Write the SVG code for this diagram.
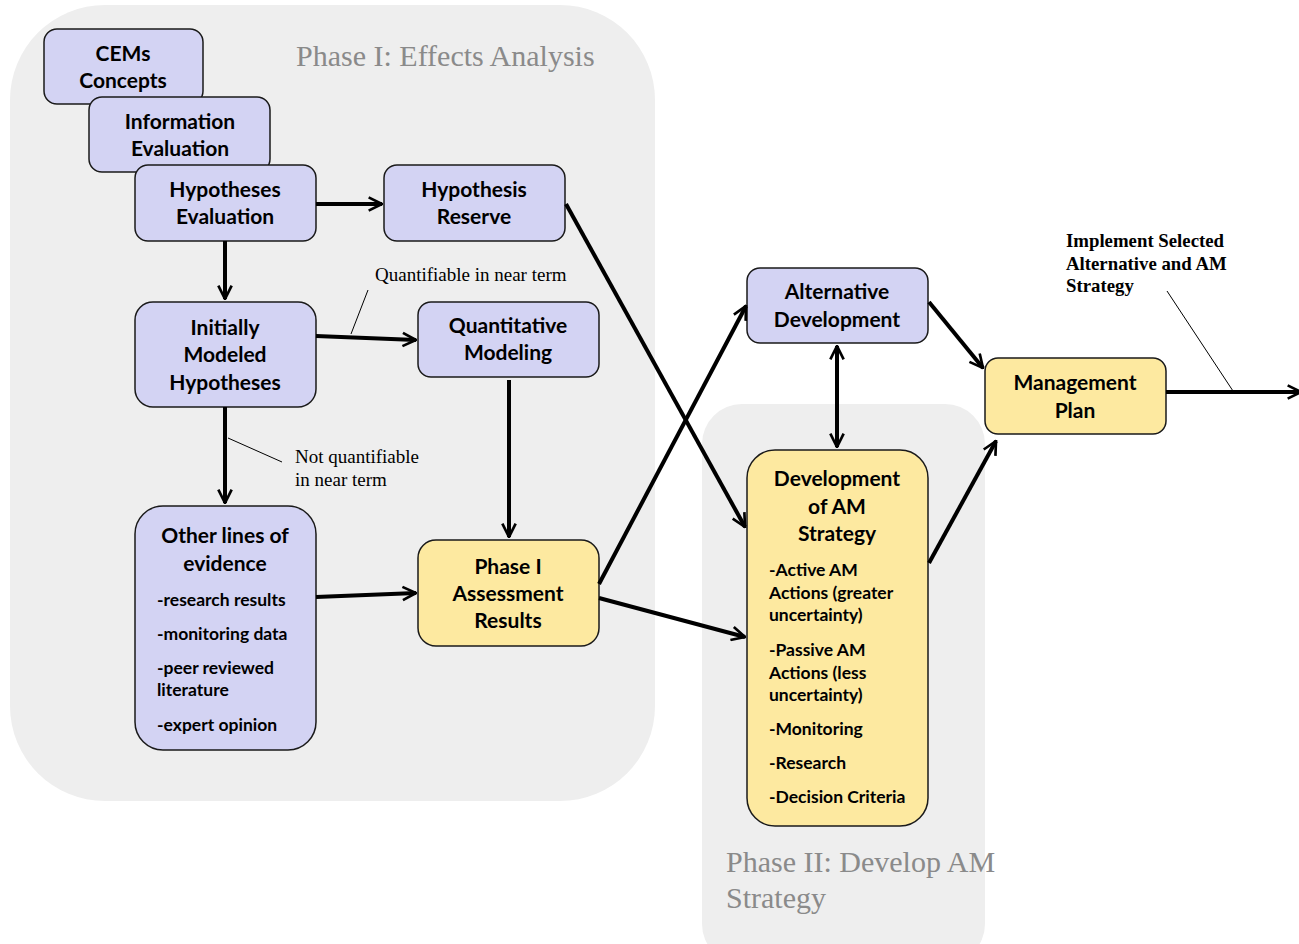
<svg xmlns="http://www.w3.org/2000/svg" width="1299" height="944" viewBox="0 0 1299 944">
<defs>
<marker id="ah" viewBox="0 0 12 12" refX="11" refY="6" markerWidth="16" markerHeight="16" markerUnits="userSpaceOnUse" orient="auto-start-reverse">
<path d="M1,1 L11,6 L1,11" fill="none" stroke="#000" stroke-width="2"/>
</marker>
<style>
.bg{fill:#eeeeee}
.ph{font-family:"Liberation Serif",serif;font-size:30px;fill:#8a8a8a}
.lav{fill:#d3d3f3;stroke:#1a1a1a;stroke-width:1.5}
.yel{fill:#fde9a0;stroke:#1a1a1a;stroke-width:1.5}
.t{font-family:Lato,"Open Sans",sans-serif;font-weight:bold;font-size:21px;fill:#000;text-anchor:middle}
.b{font-family:Lato,"Open Sans",sans-serif;font-weight:bold;font-size:17.5px;fill:#000}
.c{stroke:#000;stroke-width:4;fill:none;marker-end:url(#ah)}
.ln{stroke:#000;stroke-width:1;fill:none}
.lbl{font-family:"Liberation Serif",serif;font-size:19px;fill:#000}
.lblb{font-family:"Liberation Serif",serif;font-size:18.8px;font-weight:bold;fill:#000}
</style>
</defs>
<g id="phase1">
<rect class="bg" x="10" y="5" width="645" height="796" rx="95"/>
<text class="ph" x="296" y="66">Phase I: Effects Analysis</text>
</g>
<g id="phase2">
<rect class="bg" x="702" y="404" width="283" height="560" rx="40"/>
<text class="ph" x="726" y="872">Phase II: Develop AM</text>
<text class="ph" x="726" y="908">Strategy</text>
</g>
<g id="cems">
<rect class="lav" x="44" y="29" width="159" height="75" rx="13"/>
<text class="t" x="123" y="61">CEMs</text>
<text class="t" x="123" y="88">Concepts</text>
</g>
<g id="info">
<rect class="lav" x="89" y="97" width="181" height="75" rx="13"/>
<text class="t" x="180" y="129">Information</text>
<text class="t" x="180" y="156">Evaluation</text>
</g>
<g id="hypeval">
<rect class="lav" x="135" y="165" width="181" height="76" rx="13"/>
<text class="t" x="225" y="197">Hypotheses</text>
<text class="t" x="225" y="224">Evaluation</text>
</g>
<g id="hypres">
<rect class="lav" x="384" y="165" width="181" height="76" rx="13"/>
<text class="t" x="474" y="197">Hypothesis</text>
<text class="t" x="474" y="224">Reserve</text>
</g>
<g id="initially">
<rect class="lav" x="135" y="302" width="181" height="105" rx="18"/>
<text class="t" x="225" y="335">Initially</text>
<text class="t" x="225" y="362">Modeled</text>
<text class="t" x="225" y="390">Hypotheses</text>
</g>
<g id="quant">
<rect class="lav" x="418" y="302" width="181" height="75" rx="13"/>
<text class="t" x="508" y="333">Quantitative</text>
<text class="t" x="508" y="360">Modeling</text>
</g>
<g id="other">
<rect class="lav" x="135" y="506" width="181" height="244" rx="28"/>
<text class="t" x="225" y="543">Other lines of</text>
<text class="t" x="225" y="571">evidence</text>
<text class="b" x="157" y="606">-research results</text>
<text class="b" x="157" y="640">-monitoring data</text>
<text class="b" x="157" y="674">-peer reviewed</text>
<text class="b" x="157" y="696">literature</text>
<text class="b" x="157" y="731">-expert opinion</text>
</g>
<g id="phase1res">
<rect class="yel" x="418" y="540" width="181" height="106" rx="18"/>
<text class="t" x="508" y="574">Phase I</text>
<text class="t" x="508" y="601">Assessment</text>
<text class="t" x="508" y="628">Results</text>
</g>
<g id="altdev">
<rect class="lav" x="747" y="268" width="181" height="75" rx="13"/>
<text class="t" x="837" y="299">Alternative</text>
<text class="t" x="837" y="327">Development</text>
</g>
<g id="devam">
<rect class="yel" x="747" y="450" width="181" height="376" rx="28"/>
<text class="t" x="837" y="486">Development</text>
<text class="t" x="837" y="514">of AM</text>
<text class="t" x="837" y="541">Strategy</text>
<text class="b" x="769" y="576">-Active AM</text>
<text class="b" x="769" y="599">Actions (greater</text>
<text class="b" x="769" y="621">uncertainty)</text>
<text class="b" x="769" y="656">-Passive AM</text>
<text class="b" x="769" y="679">Actions (less</text>
<text class="b" x="769" y="701">uncertainty)</text>
<text class="b" x="769" y="735">-Monitoring</text>
<text class="b" x="769" y="769">-Research</text>
<text class="b" x="769" y="803">-Decision Criteria</text>
</g>
<g id="mgmt">
<rect class="yel" x="985" y="358" width="181" height="76" rx="13"/>
<text class="t" x="1075" y="390">Management</text>
<text class="t" x="1075" y="418">Plan</text>
</g>
<g id="connectors">
<line class="c" x1="316" y1="204" x2="382" y2="204"/>
<line class="c" x1="225" y1="241" x2="225" y2="299"/>
<line class="c" x1="316" y1="336" x2="416" y2="340"/>
<line class="c" x1="225" y1="407" x2="225" y2="503"/>
<line class="c" x1="509" y1="380" x2="509" y2="537"/>
<line class="c" x1="316" y1="597" x2="416" y2="593"/>
<line class="c" x1="566" y1="204" x2="745" y2="527"/>
<line class="c" x1="599" y1="584" x2="746" y2="306"/>
<line class="c" x1="599" y1="598" x2="745" y2="637"/>
<line class="c" x1="837" y1="346" x2="837" y2="447" style="marker-start:url(#ah)"/>
<line class="c" x1="929" y1="302" x2="983" y2="368"/>
<line class="c" x1="929" y1="563" x2="996" y2="441"/>
<line class="c" x1="1166" y1="392" x2="1301" y2="392"/>
<line class="ln" x1="368" y1="290" x2="351" y2="334"/>
<line class="ln" x1="228" y1="438" x2="282" y2="462"/>
<line class="ln" x1="1167" y1="291" x2="1233" y2="391"/>
<text class="lbl" x="375" y="281">Quantifiable in near term</text>
<text class="lbl" x="295" y="463">Not quantifiable</text>
<text class="lbl" x="295" y="486">in near term</text>
<text class="lblb" x="1066" y="247">Implement Selected</text>
<text class="lblb" x="1066" y="270">Alternative and AM</text>
<text class="lblb" x="1066" y="292">Strategy</text>
</g>
</svg>
